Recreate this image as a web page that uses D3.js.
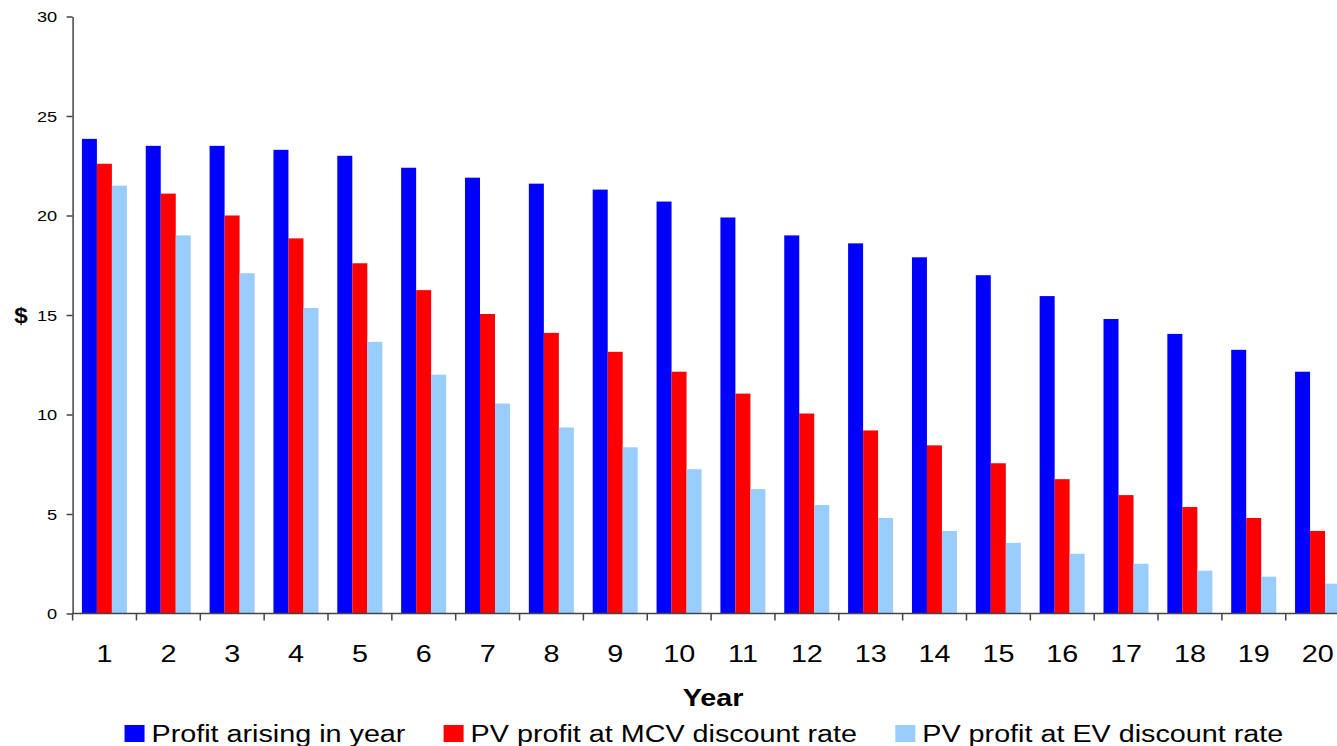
<!DOCTYPE html>
<html>
<head>
<meta charset="utf-8">
<script src="https://cdn.jsdelivr.net/npm/d3@7"></script>
<style>
  html, body { margin: 0; padding: 0; background: #fff; }
  svg { display: block; font-family: "Liberation Sans", Arial, sans-serif; }
</style>
</head>
<body>
<svg id="chart" width="1337" height="746"></svg>
<script>
// Profit per policy year: undiscounted vs present values at two discount rates
const years = ["1","2","3","4","5","6","7","8","9","10","11","12","13","14","15","16","17","18","19","20"];
const profitInYear = [23.85, 23.5, 23.5, 23.3, 23.0, 22.4, 21.9, 21.6, 21.3, 20.7, 19.9, 19.0, 18.6, 17.9, 17.0, 15.95, 14.8, 14.05, 13.25, 12.15];
const pvAtMcv = [22.6, 21.1, 20.0, 18.85, 17.6, 16.25, 15.05, 14.1, 13.15, 12.15, 11.05, 10.05, 9.2, 8.45, 7.55, 6.75, 5.95, 5.35, 4.8, 4.15];
const pvAtEv = [21.5, 19.0, 17.1, 15.35, 13.65, 12.0, 10.55, 9.35, 8.35, 7.25, 6.25, 5.45, 4.8, 4.15, 3.55, 3.0, 2.5, 2.15, 1.85, 1.5];
const seriesNames = ["Profit arising in year", "PV profit at MCV discount rate", "PV profit at EV discount rate"];
const seriesColors = ["#0000ff", "#ff0000", "#99ccff"];
const yTicks = [0, 5, 10, 15, 20, 25, 30];

const series = [profitInYear, pvAtMcv, pvAtEv];
const rows = years.map((yr, i) => ({ year: yr, values: series.map(s => s[i]) }));

const svg = d3.select("#chart");
const SX = 1.25; // wide lettering

const plotLeft = 72.6, plotTop = 16.5, plotBottom = 613.5, bandStep = 63.85;
const x = d3.scaleBand().domain(years).range([plotLeft, plotLeft + bandStep * years.length]).padding(0);
const inner = d3.scaleBand().domain(d3.range(series.length)).range([9.3, 54.3]).padding(0);
const y = d3.scaleLinear().domain([0, 30]).range([plotBottom, plotTop]);

// bars
const groups = svg.append("g").selectAll("g").data(rows).join("g")
  .attr("transform", d => `translate(${x(d.year)},0)`);
groups.selectAll("rect").data(d => d.values.map((v, k) => ({ v, k }))).join("rect")
  .attr("x", d => inner(d.k))
  .attr("width", inner.bandwidth())
  .attr("y", d => y(d.v))
  .attr("height", d => y(0) - y(d.v))
  .attr("fill", d => seriesColors[d.k]);

// y axis
const yAxis = svg.append("g").attr("transform", `translate(${plotLeft},0)`)
  .call(d3.axisLeft(y).tickValues(yTicks).tickSize(6).tickSizeOuter(0));
yAxis.select(".domain").attr("stroke", "#444").attr("stroke-width", 1.5);
yAxis.selectAll(".tick line").attr("stroke", "#444").attr("stroke-width", 1.5);
yAxis.selectAll(".tick text")
  .attr("font-size", 14).attr("fill", "#000")
  .attr("x", -15.5 / 1.3).attr("dy", "0.36em")
  .attr("transform", "scale(1.3,1)");

// x axis: labels at category centres, ticks at category boundaries
const xAxis = svg.append("g").attr("transform", `translate(0,${plotBottom})`)
  .call(d3.axisBottom(x).tickSize(0).tickSizeOuter(0));
xAxis.select(".domain").remove();
xAxis.append("line").attr("x1", plotLeft).attr("x2", 1337).attr("y1", 0).attr("y2", 0)
  .attr("stroke", "#444").attr("stroke-width", 1.5);
xAxis.selectAll(".boundary").data(years).join("line").attr("class", "boundary")
  .attr("x1", d => x(d)).attr("x2", d => x(d)).attr("y1", 0).attr("y2", 7)
  .attr("stroke", "#444").attr("stroke-width", 1.5);
xAxis.selectAll(".tick text")
  .attr("font-size", 23).attr("fill", "#000")
  .attr("y", 48.5).attr("dy", null)
  .attr("transform", `scale(${SX},1)`);

// axis titles
svg.append("text")
  .attr("transform", `translate(713,706) scale(${SX},1)`)
  .attr("text-anchor", "middle").attr("font-size", 23).attr("font-weight", "bold")
  .text("Year");
svg.append("text")
  .attr("transform", `translate(21,323) scale(1.1,1)`)
  .attr("text-anchor", "middle").attr("font-size", 22).attr("font-weight", "bold")
  .text("$");

// legend
const legend = svg.append("g");
const items = legend.selectAll("g").data(seriesNames).join("g");
items.append("rect").attr("width", 20).attr("height", 17).attr("y", 725)
  .attr("fill", (d, i) => seriesColors[i]);
items.append("text").attr("font-size", 23).attr("fill", "#000")
  .text(d => d);
let cursor = 0;
const placed = [];
items.each(function () {
  const t = d3.select(this).select("text");
  const w = t.node().getComputedTextLength() * SX;
  placed.push({ start: cursor, w });
  cursor += 20 + 7 + w + 38;
});
const total = cursor - 38;
const startX = 704 - total / 2;
items.each(function (d, i) {
  const g = d3.select(this);
  const sx0 = startX + placed[i].start;
  g.select("rect").attr("x", sx0);
  g.select("text").attr("transform", `translate(${sx0 + 27},742) scale(${SX},1)`);
});
</script>
</body>
</html>
